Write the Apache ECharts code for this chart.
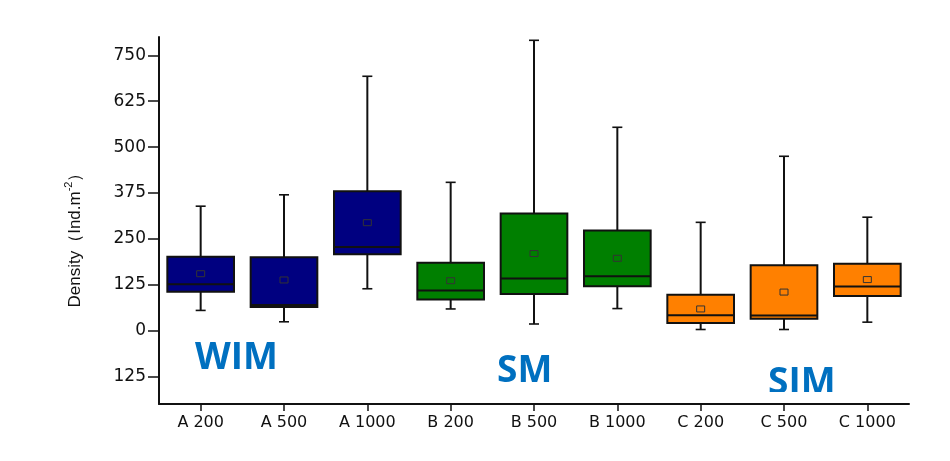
<!DOCTYPE html>
<html>
<head>
<meta charset="utf-8">
<script src="https://cdn.jsdelivr.net/npm/echarts@6/dist/echarts.min.js"></script>
<style>
html,body{margin:0;padding:0;background:#ffffff;}
#chart{width:950px;height:461px;}
</style>
</head>
<body>
<div id="chart"></div>
<script>
// ---- data ----
const categories = ['A 200','A 500','A 1000','B 200','B 500','B 1000','C 200','C 500','C 1000'];
const mins    = [55, 24, 114, 59, 18, 60, 3, 3, 23];
const q1s     = [106, 64, 208, 85, 100, 121, 21, 32, 94];
const medians = [126, 70, 228, 109, 142, 148, 42, 41, 120];
const q3s     = [201, 200, 380, 185, 319, 273, 98, 178, 182];
const maxs    = [339, 370, 693, 404, 791, 554, 295, 475, 309];
const means   = [155, 138, 294, 136, 210, 197, 59, 105, 139];
const yTicks  = [-125, 0, 125, 250, 375, 500, 625, 750];
const groupLabels = ['WIM', 'SM', 'SIM'];

// ---- styles ----
const fillColors = ['#000080','#000080','#000080','#007f00','#007f00','#007f00','#ff8000','#ff8000','#ff8000'];
const ink = '#111111';

const boxData = categories.map((c, i) => [i, mins[i], q1s[i], medians[i], q3s[i], maxs[i], means[i]]);

function renderBox(params, api) {
  const i = api.value(0);
  const band = api.size([1, 0])[0];
  const bw = band * 0.8;
  const pMin = api.coord([i, api.value(1)]);
  const pQ1 = api.coord([i, api.value(2)]);
  const pMed = api.coord([i, api.value(3)]);
  const pQ3 = api.coord([i, api.value(4)]);
  const pMax = api.coord([i, api.value(5)]);
  const pMean = api.coord([i, api.value(6)]);
  const cx = pMed[0];
  const capW = 10;
  const lineStyle = {stroke: ink, lineWidth: 2};
  const capStyle = {stroke: ink, lineWidth: 1.6};
  return {
    type: 'group',
    children: [
      {type: 'line', shape: {x1: cx, y1: pMax[1], x2: cx, y2: pQ3[1]}, style: lineStyle},
      {type: 'line', shape: {x1: cx, y1: pQ1[1], x2: cx, y2: pMin[1]}, style: lineStyle},
      {type: 'line', shape: {x1: cx - capW/2, y1: pMax[1], x2: cx + capW/2, y2: pMax[1]}, style: capStyle},
      {type: 'line', shape: {x1: cx - capW/2, y1: pMin[1], x2: cx + capW/2, y2: pMin[1]}, style: capStyle},
      {type: 'rect', shape: {x: cx - bw/2, y: pQ3[1], width: bw, height: pQ1[1] - pQ3[1]},
        style: {fill: fillColors[i], stroke: ink, lineWidth: 2}},
      {type: 'line', shape: {x1: cx - bw/2, y1: pMed[1], x2: cx + bw/2, y2: pMed[1]}, style: lineStyle},
      {type: 'rect', shape: {x: cx - 4, y: pMean[1] - 3, width: 8, height: 6},
        style: {fill: 'none', stroke: '#333333', lineWidth: 1}}
    ]
  };
}

const chart = echarts.init(document.getElementById('chart'), null, {renderer: 'canvas'});
chart.setOption({
  backgroundColor: '#ffffff',
  animation: false,
  grid: {left: 159, right: 41, top: 37, bottom: 57},
  xAxis: {
    type: 'category',
    data: categories,
    axisLine: {show: true, onZero: false, lineStyle: {color: ink, width: 2}},
    axisTick: {show: true, alignWithLabel: true, length: 7, lineStyle: {color: ink, width: 1.5}},
    axisLabel: {color: '#111', fontFamily: 'DejaVu Sans', fontSize: 16, margin: 11},
    splitLine: {show: false}
  },
  yAxis: {
    type: 'value',
    min: -200,
    max: 800,
    axisLine: {show: true, lineStyle: {color: ink, width: 2}},
    axisTick: {show: true, length: 11, customValues: yTicks, lineStyle: {color: ink, width: 1.5}},
    axisLabel: {
      customValues: yTicks,
      color: '#111', fontFamily: 'DejaVu Sans', fontSize: 17, margin: 13,
      formatter: v => String(Math.abs(v))
    },
    splitLine: {show: false}
  },
  series: [{
    type: 'custom',
    renderItem: renderBox,
    data: boxData,
    encode: {x: 0, y: [1, 2, 3, 4, 5, 6]},
    clip: false
  }],
  graphic: [
    {
      type: 'text', x: 75, y: 236, rotation: Math.PI / 2, z: 10,
      style: {
        text: '{a|Density（Ind.m}{s|-2}{a|）}',
        align: 'center', verticalAlign: 'middle',
        rich: {
          a: {fontFamily: '"Liberation Sans Narrow", "Liberation Sans"', fontSize: 17, lineHeight: 24, fill: '#111', verticalAlign: 'middle'},
          s: {fontFamily: '"Liberation Sans Narrow", "Liberation Sans"', fontSize: 11, lineHeight: 13, fill: '#111', verticalAlign: 'top'}
        }
      }
    },
    {type: 'text', left: 195, top: 340, z: 10,
      style: {text: groupLabels[0], fill: '#0070c0', font: 'bold 37px "Open Sans"'}},
    {type: 'text', left: 497, top: 353, z: 10,
      style: {text: groupLabels[1], fill: '#0070c0', font: 'bold 37px "Open Sans"'}},
    {type: 'text', left: 768, top: 365, z: 10,
      style: {text: groupLabels[2], fill: '#0070c0', font: 'bold 37px "Open Sans"'}},
    {type: 'rect', shape: {x: 755, y: 392, width: 100, height: 11}, z: 11,
      style: {fill: '#ffffff'}}
  ]
});
</script>
</body>
</html>
